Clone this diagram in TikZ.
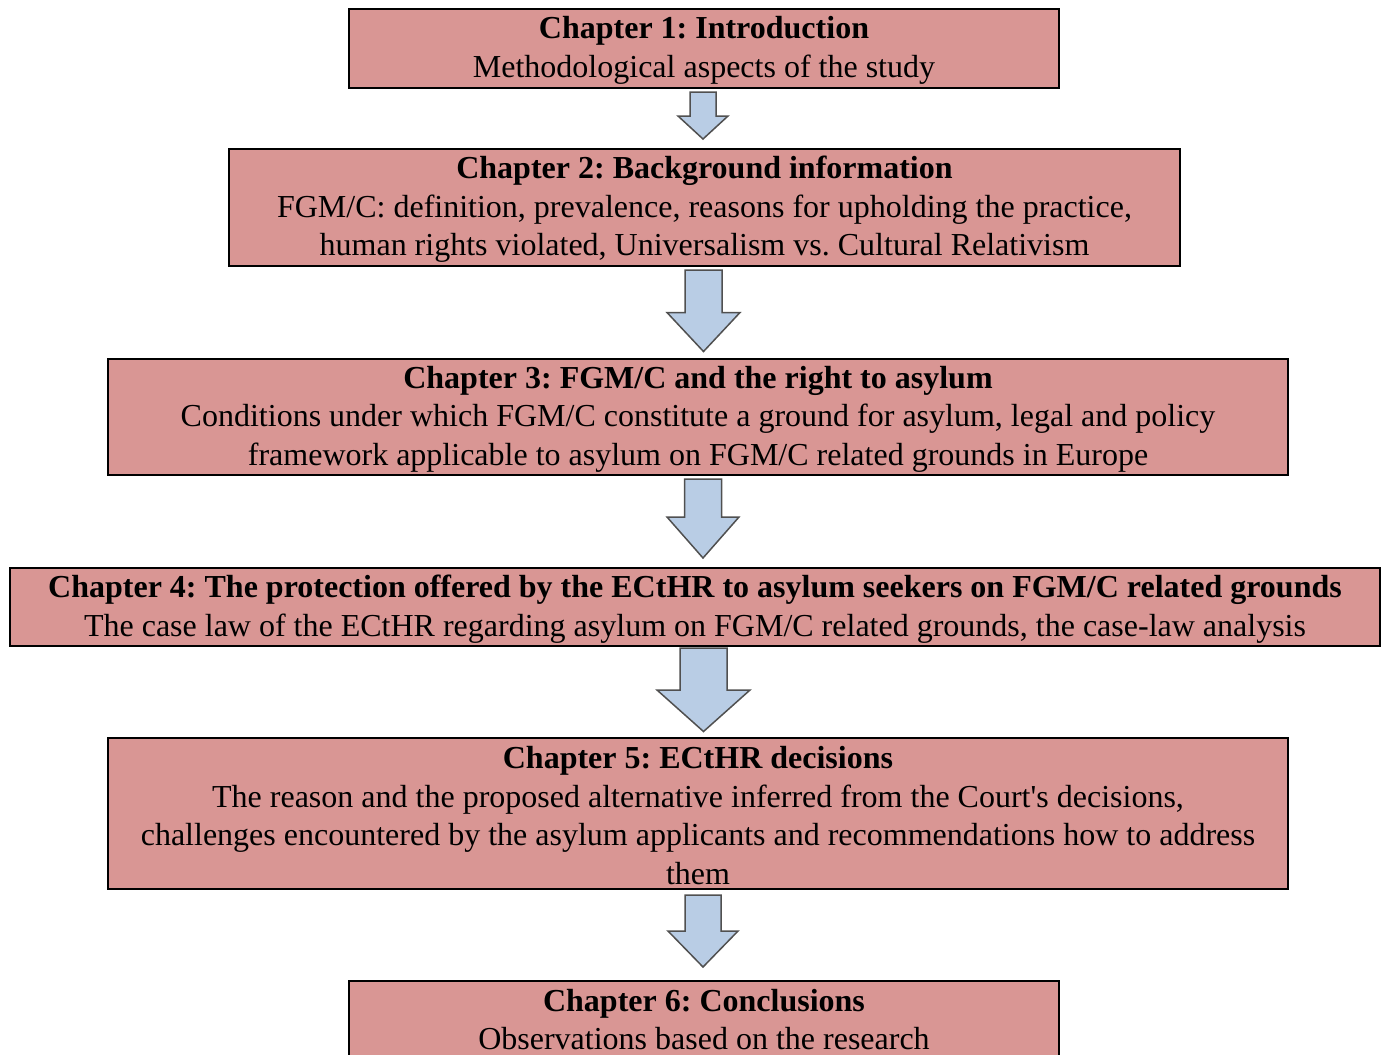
\documentclass[tikz,border=0pt]{standalone}
\usepackage{fontspec}
\setmainfont{Liberation Serif}
\definecolor{boxfill}{HTML}{D99694}
\definecolor{arrowfill}{HTML}{B9CDE5}
\definecolor{arrowline}{HTML}{505050}
\tikzset{
  chapbox/.style={draw=black, line width=2bp, fill=boxfill, inner sep=0pt},
  chaptext/.style={align=center, inner sep=0pt,
    font=\fontsize{32bp}{38.5bp}\selectfont\frenchspacing},
  blockarrow/.style={draw=arrowline, line width=1.5bp, fill=arrowfill, line join=miter}
}
% #1 center x, #2 top y, #3 head base y, #4 tip y, #5 shaft half width, #6 head half width
\newcommand\downblock[6]{%
  \draw[blockarrow] (#1-#5,#2) -- (#1+#5,#2) -- (#1+#5,#3) -- (#1+#6,#3) -- (#1,#4)
    -- (#1-#6,#3) -- (#1-#5,#3) -- cycle;}
\begin{document}
\begin{tikzpicture}[x=1bp,y=-1bp]
\useasboundingbox (0,0) rectangle (1383,1054);
\fill[white] (0,0) rectangle (1383,1054);
\begin{scope}
\clip (0,0) rectangle (1383,1054);
\node[chapbox, minimum width=710bp, minimum height=79bp] (c1) at (704,48.5) {};
\node[chapbox, minimum width=951bp, minimum height=117bp] (c2) at (704.5,207.5) {};
\node[chapbox, minimum width=1180bp, minimum height=116bp] (c3) at (698,417) {};
\node[chapbox, minimum width=1370bp, minimum height=78bp] (c4) at (695,607) {};
\node[chapbox, minimum width=1180bp, minimum height=151bp] (c5) at (698,813.5) {};
\node[chapbox, minimum width=710bp, minimum height=79bp] (c6) at (704,1020.5) {};
\node[chaptext] (t1) at ([yshift=-2bp]c1.center)
  {\textbf{Chapter 1: Introduction}\\ Methodological aspects of the study};
\node[chaptext] (t2) at ([yshift=-2bp]c2.center)
  {\textbf{Chapter 2: Background information}\\ FGM/C: definition, prevalence, reasons for upholding the practice,\\ human rights violated, Universalism vs. Cultural Relativism};
\node[chaptext] (t3) at ([yshift=-2bp]c3.center)
  {\textbf{Chapter 3: FGM/C and the right to asylum}\\ Conditions under which FGM/C constitute a ground for asylum, legal and policy\\ framework applicable to asylum on FGM/C related grounds in Europe};
\node[chaptext] (t4) at ([yshift=-2bp]c4.center)
  {\textbf{Chapter 4: The protection offered by the ECtHR to asylum seekers on FGM/C related grounds}\\ The case law of the ECtHR regarding asylum on FGM/C related grounds, the case-law analysis};
\node[chaptext] (t5) at ([yshift=-2bp]c5.center)
  {\textbf{Chapter 5: ECtHR decisions}\\ The reason and the proposed alternative inferred from the Court\textquotesingle s decisions,\\ challenges encountered by the asylum applicants and recommendations how to address\\ them};
\node[chaptext] (t6) at ([yshift=1bp]c6.center)
  {\textbf{Chapter 6: Conclusions}\\ Observations based on the research};
\end{scope}
\downblock{703}{92}{116}{139}{13}{25}
\downblock{703.5}{270}{312.5}{351.5}{18.5}{36.5}
\downblock{703}{479}{517}{558}{18.5}{36}
\downblock{703.5}{648}{690}{731.5}{23.5}{46.5}
\downblock{703}{895}{931}{967}{18}{35}
\end{tikzpicture}
\end{document}
